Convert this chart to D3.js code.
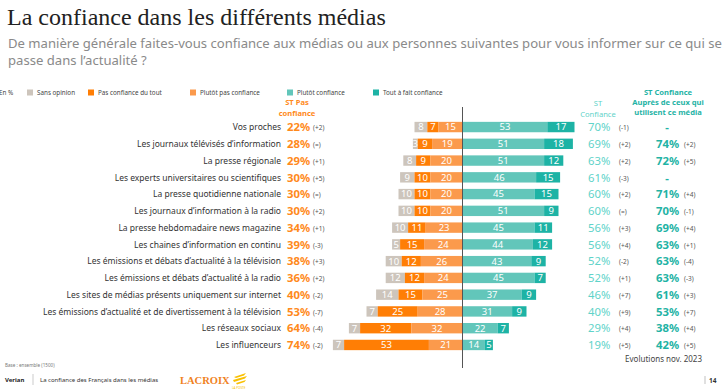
<!DOCTYPE html>
<html><head><meta charset="utf-8">
<script src="https://cdn.jsdelivr.net/npm/d3@7"></script>
<style>
body{margin:0;background:#fff;}
svg{display:block;font-family:"Noto Sans",sans-serif;}
</style></head>
<body><svg id="c" width="725" height="391"></svg>
<script>
const categories = [
  "Vos proches",
  "Les journaux télévisés d’information",
  "La presse régionale",
  "Les experts universitaires ou scientifiques",
  "La presse quotidienne nationale",
  "Les journaux d’information à la radio",
  "La presse hebdomadaire news magazine",
  "Les chaines d’information en continu",
  "Les émissions et débats d’actualité à la télévision",
  "Les émissions et débats d’actualité à la radio",
  "Les sites de médias présents uniquement sur internet",
  "Les émissions d’actualité et de divertissement à la télévision",
  "Les réseaux sociaux",
  "Les influenceurs"
];
const seriesNames = ["Sans opinion","Pas confiance du tout","Plutôt pas confiance","Plutôt confiance","Tout à fait confiance"];
const sansOpinion   = [8,3,8,9,10,10,10,5,10,12,14,7,7,7];
const pasDuTout     = [7,9,9,10,10,10,11,15,12,12,15,25,32,53];
const plutotPas     = [15,19,20,20,20,20,23,24,26,24,25,28,32,21];
const plutot        = [53,51,51,46,45,51,45,44,43,45,37,31,22,14];
const toutAFait     = [17,18,12,15,15,9,11,12,9,7,9,9,7,5];
const stPas         = ["22%","28%","29%","30%","30%","30%","34%","39%","38%","36%","40%","53%","64%","74%"];
const stPasEvo      = ["(+2)","(=)","(+1)","(+5)","(=)","(+2)","(+1)","(-3)","(+3)","(+2)","(-2)","(-7)","(-4)","(-2)"];
const stConf        = ["70%","69%","63%","61%","60%","60%","56%","56%","52%","52%","46%","40%","29%","19%"];
const stConfEvo     = ["(-1)","(+2)","(+2)","(-3)","(+2)","(=)","(+3)","(+4)","(-2)","(+1)","(+7)","(+9)","(+4)","(+5)"];
const stUsers       = ["-","74%","72%","-","71%","70%","69%","63%","63%","63%","61%","53%","38%","42%"];
const stUsersEvo    = ["","(+2)","(+5)","","(+4)","(-1)","(+4)","(+1)","(-4)","(-3)","(+3)","(+7)","(+4)","(+5)"];
const colors = ["#cdc5bc","#ff7e05","#fb9a4c","#62c6ba","#1db3a5"];

const svg = d3.select("#c");
// Title & subtitle
svg.append("text").attr("x",7).attr("y",25).attr("font-family","'Liberation Serif',serif")
  .attr("font-size",24).attr("fill","#222").text("La confiance dans les différents médias");
svg.append("text").attr("x",8).attr("y",48).attr("font-size",13.1).attr("fill","#8a8a8a")
  .text("De manière générale faites-vous confiance aux médias ou aux personnes suivantes pour vous informer sur ce qui se");
svg.append("text").attr("x",8).attr("y",65).attr("font-size",13.1).attr("fill","#8a8a8a")
  .text("passe dans l’actualité ?");

// Legend
const lg = svg.append("g").attr("font-size",6.3).attr("fill","#444");
lg.append("text").attr("x",-1).attr("y",95).text("En %");
const legX = [27,88,190,287,373];
seriesNames.forEach((n,i)=>{
  lg.append("rect").attr("x",legX[i]).attr("y",89.5).attr("width",6).attr("height",6).attr("fill",colors[i]);
  lg.append("text").attr("x",legX[i]+10).attr("y",95).text(n);
});

// Scales
const x = d3.scaleLinear().domain([-100,100]).range([462.5-160,462.5+160]);
const y = d3.scaleBand().domain(categories).range([118.5,353.5]).paddingInner(0.38).paddingOuter(0.2);

const rows = categories.map((c,i)=>({c,i,segs:[
  {k:0,x0:-(plutotPas[i]+pasDuTout[i]+sansOpinion[i]),x1:-(plutotPas[i]+pasDuTout[i]),v:sansOpinion[i]},
  {k:1,x0:-(plutotPas[i]+pasDuTout[i]),x1:-plutotPas[i],v:pasDuTout[i]},
  {k:2,x0:-plutotPas[i],x1:0,v:plutotPas[i]},
  {k:3,x0:0,x1:plutot[i],v:plutot[i]},
  {k:4,x0:plutot[i],x1:plutot[i]+toutAFait[i],v:toutAFait[i]}
]}));

const g = svg.append("g");
const rg = g.selectAll("g.row").data(rows).join("g");
rg.selectAll("rect").data(d=>d.segs.map(s=>({...s,c:d.c}))).join("rect")
  .attr("x",s=>x(s.x0)).attr("width",s=>x(s.x1)-x(s.x0))
  .attr("y",s=>y(s.c)).attr("height",y.bandwidth()).attr("fill",s=>colors[s.k]);
rg.selectAll("text.v").data(d=>d.segs.map(s=>({...s,c:d.c}))).join("text")
  .attr("x",s=>(x(s.x0)+x(s.x1))/2).attr("y",s=>y(s.c)+y.bandwidth()/2+3.4)
  .attr("text-anchor","middle").attr("font-size",9.5).attr("fill","#fff").text(s=>s.v);

// Axis line
svg.append("line").attr("x1",x(0)).attr("x2",x(0)).attr("y1",107).attr("y2",368)
  .attr("stroke","#555").attr("stroke-width",1);

// Left labels
const cy = c=>y(c)+y.bandwidth()/2+3.3;
svg.append("g").selectAll("text").data(categories).join("text")
  .attr("x",281).attr("y",d=>cy(d)).attr("text-anchor","end").attr("font-size",8.5).attr("fill","#333").text(d=>d);
svg.append("g").selectAll("text").data(categories).join("text")
  .attr("x",287).attr("y",d=>cy(d)+1).attr("font-size",11.3).attr("font-weight","bold").attr("fill","#ff8a1c")
  .text((d,i)=>stPas[i]);
svg.append("g").selectAll("text").data(categories).join("text")
  .attr("x",313).attr("y",d=>cy(d)).attr("font-size",6.5).attr("fill","#555").text((d,i)=>stPasEvo[i]);

// Right columns
svg.append("g").selectAll("text").data(categories).join("text")
  .attr("x",588).attr("y",d=>cy(d)+1).attr("font-size",11.3).attr("fill","#5fd3c9").text((d,i)=>stConf[i]);
svg.append("g").selectAll("text").data(categories).join("text")
  .attr("x",619).attr("y",d=>cy(d)).attr("font-size",6.5).attr("fill","#555").text((d,i)=>stConfEvo[i]);
svg.append("g").selectAll("text").data(categories).join("text")
  .attr("x",(d,i)=>stUsers[i]==="-"?667:656).attr("y",d=>cy(d)+1)
  .attr("text-anchor",(d,i)=>stUsers[i]==="-"?"middle":"start").attr("font-size",11.3).attr("font-weight","bold")
  .attr("fill","#1fb3a5").text((d,i)=>stUsers[i]);
svg.append("g").selectAll("text").data(categories).join("text")
  .attr("x",684).attr("y",d=>cy(d)).attr("font-size",6.5).attr("fill","#555").text((d,i)=>stUsersEvo[i]);

// Column headers
const hd = svg.append("g").attr("text-anchor","middle").attr("font-size",7.6).attr("font-weight","bold");
hd.append("text").attr("x",297).attr("y",105).attr("fill","#ff8a1c").text("ST Pas");
hd.append("text").attr("x",297).attr("y",116).attr("fill","#ff8a1c").text("confiance");
hd.append("text").attr("x",598).attr("y",106).attr("fill","#5fd3c9").attr("font-weight","normal").text("ST");
hd.append("text").attr("x",598).attr("y",117).attr("fill","#5fd3c9").attr("font-weight","normal").text("Confiance");
hd.append("text").attr("x",668).attr("y",95).attr("fill","#1fb3a5").text("ST Confiance");
hd.append("text").attr("x",668).attr("y",105).attr("fill","#1fb3a5").text("Auprès de ceux qui");
hd.append("text").attr("x",668).attr("y",115).attr("fill","#1fb3a5").text("utilisent ce média");

// Footer
svg.append("text").attr("x",702).attr("y",362).attr("text-anchor","end").attr("font-size",8).attr("fill","#444").text("Evolutions nov. 2023");
svg.append("text").attr("x",5).attr("y",367).attr("font-size",4.6).attr("fill","#777").text("Base : ensemble (1500)");
svg.append("text").attr("x",5).attr("y",382).attr("font-size",6).attr("font-weight","bold").attr("fill","#222").text("Verian");
svg.append("line").attr("x1",33).attr("x2",33).attr("y1",374).attr("y2",385).attr("stroke","#aaa").attr("stroke-width",0.6);
svg.append("text").attr("x",40).attr("y",382).attr("font-size",6).attr("fill","#333").text("La confiance des Français dans les médias");
svg.append("text").attr("x",180).attr("y",384).attr("font-family","'Liberation Serif',serif").attr("font-weight","bold")
  .attr("font-size",10.5).attr("fill","#f0821e").text("LACROIX");
// La Poste mark
const lp = svg.append("g").attr("fill","#f9c000");
lp.append("path").attr("d","M234,377 L246,373 L244,375.5 L236,378 Z");
lp.append("path").attr("d","M233,380 L247,376 L245,378.5 L234,382 Z");
lp.append("path").attr("d","M236,383 L246,380 L244.5,382 L237,384.5 Z");
svg.append("text").attr("x",232).attr("y",389).attr("font-size",3).attr("fill","#f9c000").text("LA POSTE");
svg.append("line").attr("x1",705).attr("x2",705).attr("y1",376).attr("y2",384).attr("stroke","#999").attr("stroke-width",0.6);
svg.append("text").attr("x",709).attr("y",383).attr("font-size",6.5).attr("font-weight","bold").attr("fill","#333").text("14");
</script></body></html>
